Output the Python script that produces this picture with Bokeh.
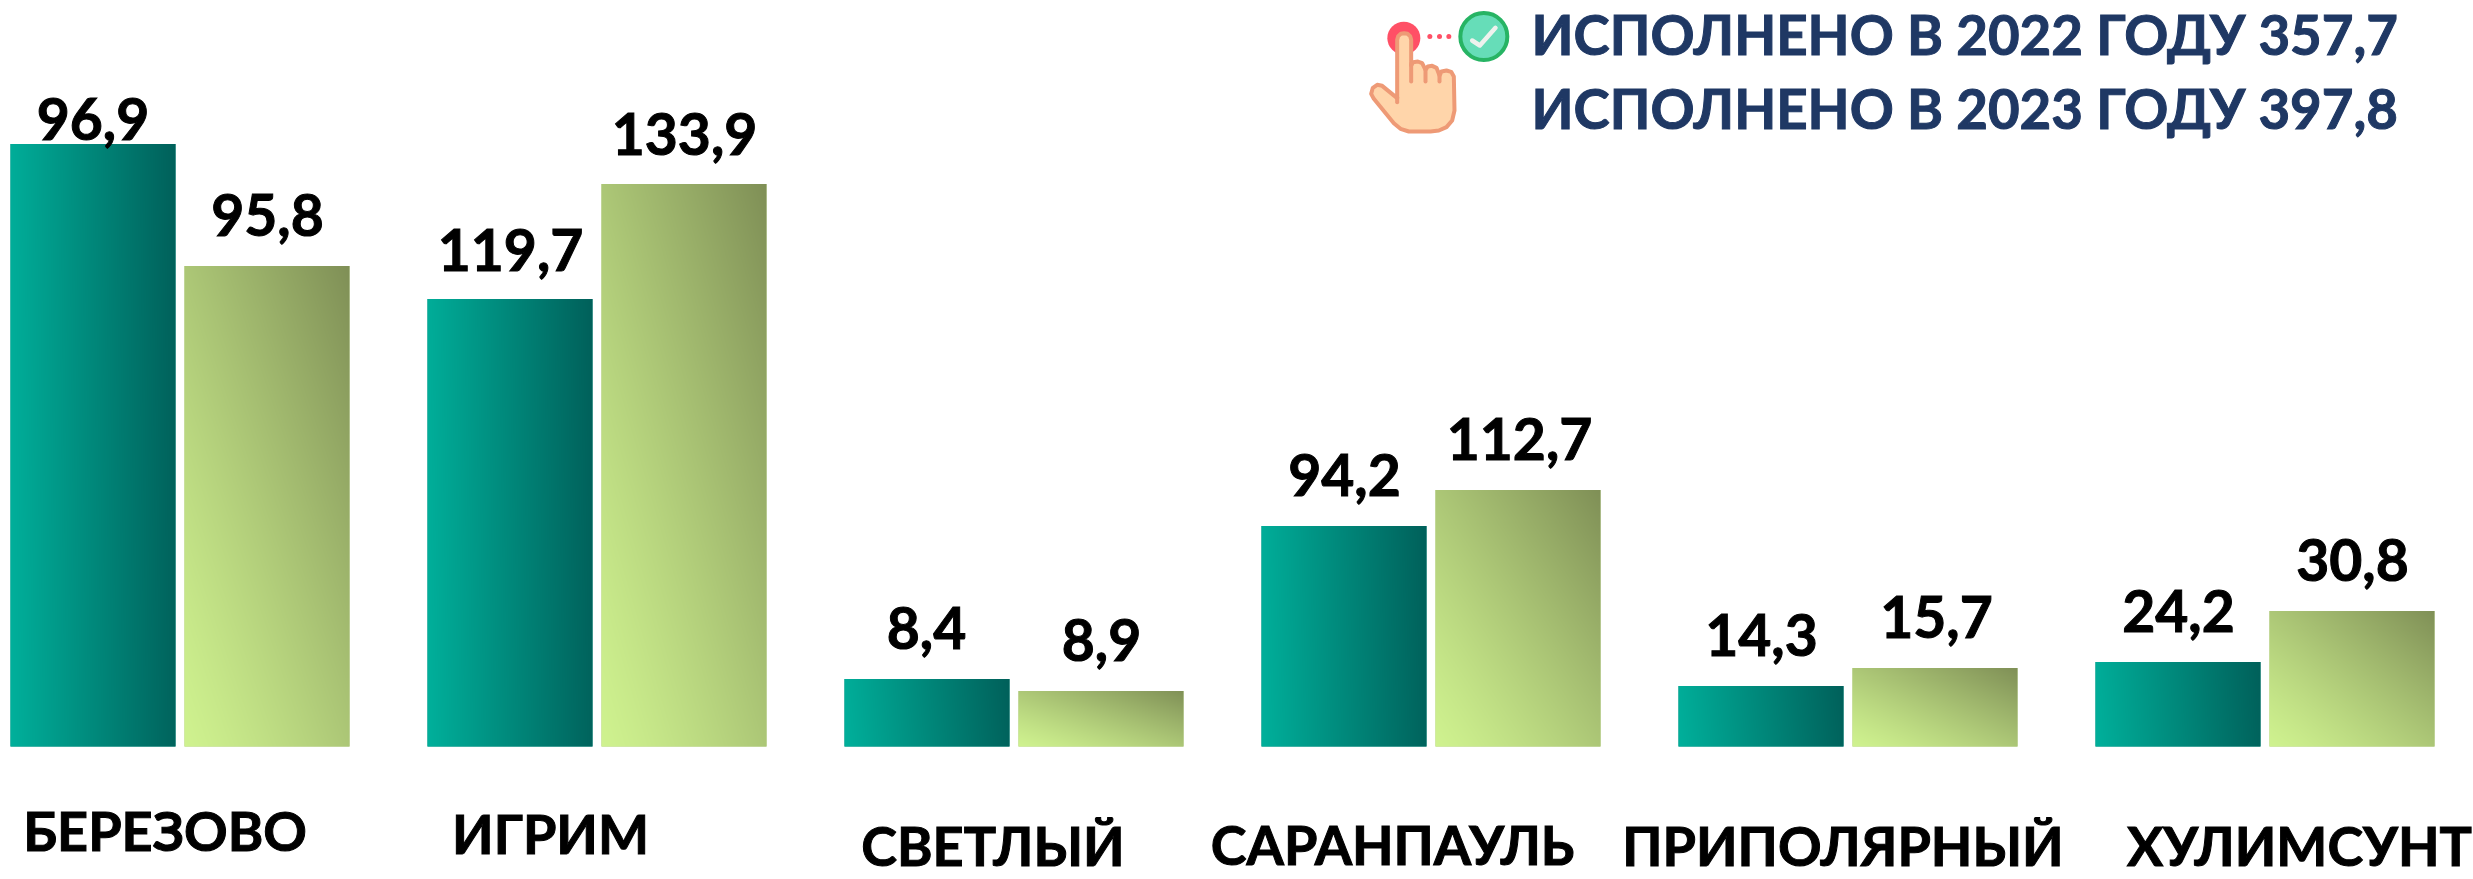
import numpy as np
from bokeh.plotting import figure
from bokeh.models import Range1d, ColumnDataSource
from bokeh.core.properties import value
from bokeh.embed import file_html
from bokeh.resources import INLINE

categories = ["БЕРЕЗОВО", "ИГРИМ", "СВЕТЛЫЙ", "САРАНПАУЛЬ", "ПРИПОЛЯРНЫЙ", "ХУЛИМСУНТ"]
labels_2022 = ["96,9", "119,7", "8,4", "94,2", "14,3", "24,2"]
labels_2023 = ["95,8", "133,9", "8,9", "112,7", "15,7", "30,8"]
# heights of the bars as drawn in the picture (they do not follow the printed labels)
drawn_2022 = [602.5, 447.5, 67.5, 220.5, 60.5, 84.5]
drawn_2023 = [480.5, 562.5, 55.5, 256.5, 78.5, 135.5]
header = ["ИСПОЛНЕНО В 2022 ГОДУ 357,7", "ИСПОЛНЕНО В 2023 ГОДУ 397,8"]

FONT = "Lato"
W, H = 2473, 879
BASE = 746
BAR_W = 165
PITCH = 417
PAIR = 174
X0 = 10
BASELINE_FIX = 0.39

# label placement in page pixels
lab22_x = [92.5, 510, 926, 1344, 1761, 2178]
lab22_base = [141, 272, 650, 497, 657, 633]
lab23_x = [267, 684, 1101, 1519, 1936, 2352]
lab23_base = [237, 155.5, 662, 461, 639, 582]
cat_x = [164.5, 550, 992.5, 1392, 1842.5, 2299]
cat_base = [851, 854, 866, 865, 866, 866]

p = figure(width=W, height=H, output_backend="svg", toolbar_location=None,
           x_range=Range1d(0, W), y_range=Range1d(BASE - H, BASE),
           x_axis_location=None, y_axis_location=None, min_border=0,
           outline_line_color=None, background_fill_color="white",
           border_fill_color="white")
p.grid.visible = False


def rgb(h):
    return np.array([int(h[i:i + 2], 16) for i in (1, 3, 5)], dtype=float)


def gradient(w, h, c0, c1, tx, ty, gamma=1.0):
    """Image (row 0 = bottom) running from c0 to c1 with the given x/y weights."""
    xs = (np.arange(w) + 0.5) / w
    ys = (np.arange(h) + 0.5) / h
    xx, yy = np.meshgrid(xs, ys)
    t = ((tx * xx + ty * yy) ** gamma)[..., None]
    col = rgb(c0) * (1 - t) + rgb(c1) * t
    img = np.empty((h, w), dtype=np.uint32)
    view = img.view(dtype=np.uint8).reshape((h, w, 4))
    view[..., :3] = np.round(col).astype(np.uint8)
    view[..., 3] = 255
    return img


def draw_series(offset, heights, c0, c1, mid, tx, ty, gamma=1.0):
    xs = [X0 + i * PITCH + offset + BAR_W / 2 for i in range(len(heights))]
    p.vbar(x=xs, top=heights, bottom=0, width=BAR_W, fill_color=mid, line_color=None)
    for x, hgt in zip(xs, heights):
        img = gradient(BAR_W, int(round(hgt)), c0, c1, tx, ty, gamma)
        p.image_rgba(image=[img], x=[x - BAR_W / 2], y=[0], dw=[BAR_W], dh=[hgt])


draw_series(0, drawn_2022, "#00B09B", "#00605A", "#008A7D", 0.96, 0.04)
draw_series(PAIR, drawn_2023, "#CFF28F", "#7F8F56", "#ACC776", 0.5, 0.5, 1.2)


def texts(xs, bases, strs, size, color="#000000", align="center"):
    shift = BASELINE_FIX * size
    src = ColumnDataSource(dict(x=xs, y=[BASE - b + shift for b in bases], t=strs))
    p.text(x="x", y="y", text="t", source=src, text_font=value(FONT),
           text_font_style="bold", text_font_size=f"{size}px", text_color=color,
           text_align=align, text_baseline="alphabetic", text_outline_color=color)


texts(lab22_x, lab22_base, labels_2022, 57)
texts(lab23_x, lab23_base, labels_2023, 57)
texts(cat_x, cat_base, categories, 54)
texts([1531, 1531], [55, 129], header, 54.6, color="#1F3864", align="left")


# icon, given in 1/3 px around its corner
def ix(v):
    return [1340 + a / 3 for a in v]


def iy(v):
    return [BASE - b / 3 for b in v]


p.scatter(ix([190]), iy([113]), size=33, fill_color="#FF5066", line_color=None)
p.scatter(ix([268, 297, 325]), iy([108, 108, 108]), size=5, fill_color="#FF5066", line_color=None)
p.scatter(ix([430]), iy([108]), size=47, fill_color="#66DDB8", line_color="#27B464", line_width=4)
p.line(ix([395, 418, 465]), iy([120, 135, 82]), line_color="#EEF2EE", line_width=4.5,
       line_join="round", line_cap="round")

hand = [(170, 118), (173, 107), (181, 100), (191, 98), (201, 100), (209, 107), (212, 118),
        (212, 195), (218, 185), (232, 183), (245, 188), (255, 208), (262, 198), (275, 196),
        (288, 202), (297, 225), (303, 213), (318, 210), (332, 214), (340, 228), (342, 330),
        (335, 360), (318, 380), (295, 390), (270, 393), (205, 393), (180, 385), (160, 368),
        (100, 295), (92, 280), (97, 262), (110, 253), (125, 256), (170, 293)]
p.patch(ix([a for a, _ in hand]), iy([b for _, b in hand]), fill_color="#FFD5AA",
        line_color="#EE9A76", line_width=4, line_join="round")
for xa, ya, yb in [(212, 190, 243), (255, 208, 243), (297, 225, 243), (170, 290, 305)]:
    p.line(ix([xa, xa]), iy([ya, yb]), line_color="#EE9A76", line_width=4, line_cap="round")

open("out.html", "w").write(file_html(p, INLINE))
